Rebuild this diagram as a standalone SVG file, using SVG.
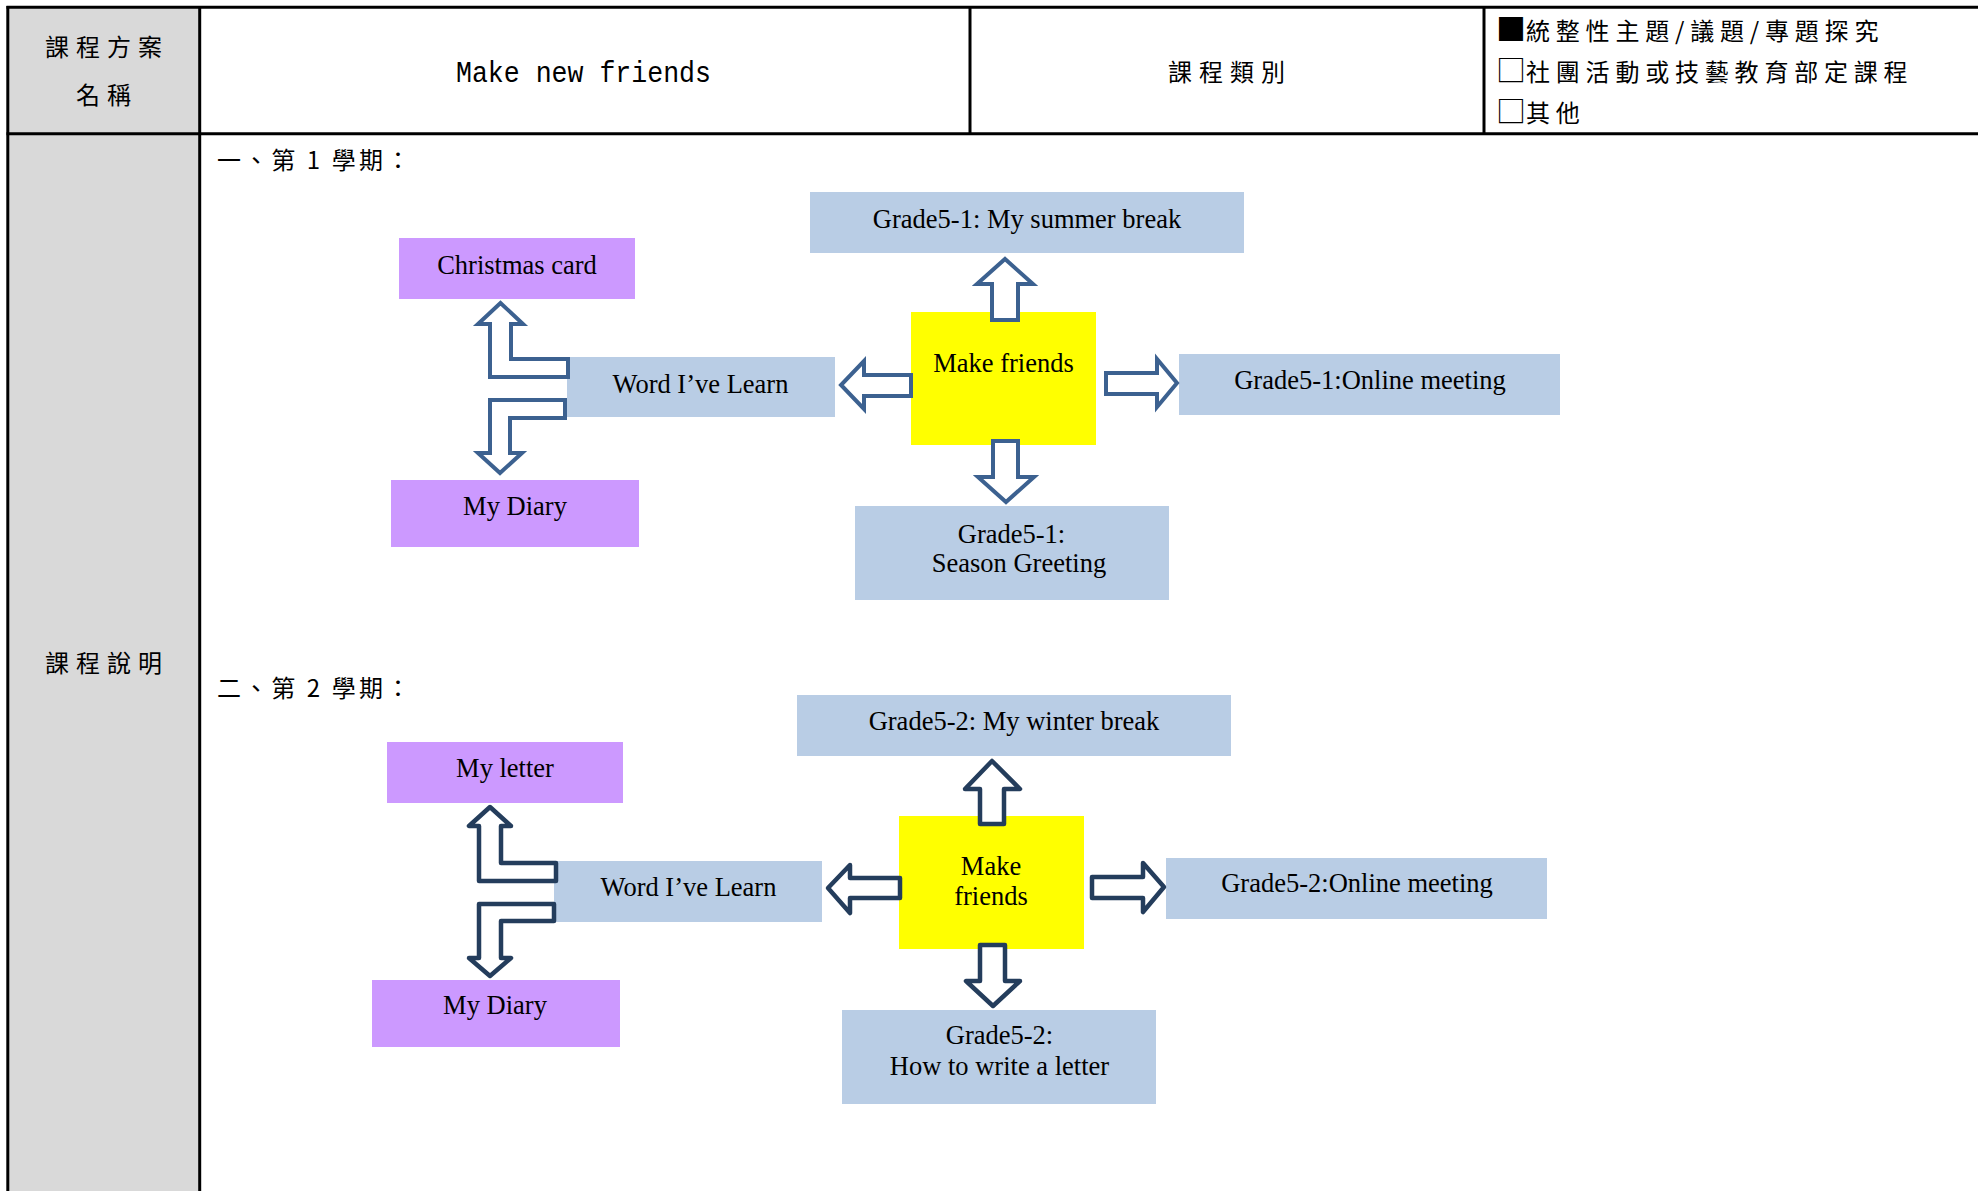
<svg xmlns="http://www.w3.org/2000/svg" width="1978" height="1191" viewBox="0 0 1978 1191">
<defs>
<style>
.cjk{font-family:"Noto Sans CJK TC","Noto Sans CJK SC",sans-serif;font-size:24px;fill:#000;}
.lbl{font-family:"Liberation Serif","Times New Roman",serif;font-size:26.5px;fill:#000;text-anchor:middle;}
.mono{font-family:"Liberation Mono","Courier New",monospace;font-size:29px;fill:#000;}
.grid{stroke:#000;stroke-width:3;fill:none;}
.blue{fill:#b9cde5;}
.purple{fill:#cc99ff;}
.yellow{fill:#ffff00;}
.a1{fill:#fff;stroke:#3c6190;stroke-width:4;stroke-linejoin:miter;}
.a2{fill:#fff;stroke:#243d5c;stroke-width:4.5;stroke-linejoin:round;}
.chk{font-size:30px;letter-spacing:0;}
</style>
</defs>
<rect width="1978" height="1191" fill="#fff"/>
<g id="table">
<rect x="8" y="7" width="191.5" height="1184" fill="#d9d9d9"/>
<line class="grid" x1="6.5" y1="7.3" x2="1978" y2="7.3"/>
<line class="grid" x1="6.5" y1="133.8" x2="1978" y2="133.8"/>
<line class="grid" x1="7.8" y1="6" x2="7.8" y2="1191"/>
<line class="grid" x1="199.7" y1="6" x2="199.7" y2="1191"/>
<line class="grid" x1="970" y1="6" x2="970" y2="134"/>
<line class="grid" x1="1484" y1="6" x2="1484" y2="134"/>
<text class="cjk" x="107" y="55.5" text-anchor="middle" letter-spacing="7">課程方案</text>
<text class="cjk" x="107" y="104" text-anchor="middle" letter-spacing="7">名稱</text>
<text class="mono" x="456" y="82" textLength="255" lengthAdjust="spacingAndGlyphs">Make new friends</text>
<text class="cjk" x="1230" y="80.5" text-anchor="middle" letter-spacing="7">課程類別</text>
<text class="cjk" x="1496" y="40" letter-spacing="5.8"><tspan class="chk">■</tspan>統整性主題/議題/專題探究</text>
<text class="cjk" x="1496" y="81" letter-spacing="5.8"><tspan class="chk">□</tspan>社團活動或技藝教育部定課程</text>
<text class="cjk" x="1496" y="122" letter-spacing="5.8"><tspan class="chk">□</tspan>其他</text>
<text class="cjk" x="107" y="672" text-anchor="middle" letter-spacing="7">課程說明</text>
<text class="cjk" x="217" y="169" font-size="25" textLength="193" lengthAdjust="spacing">一、第 1 學期：</text>
<text class="cjk" x="217" y="697" font-size="25" textLength="193" lengthAdjust="spacing">二、第 2 學期：</text>
</g>

<g id="s1-summer"><rect class="blue" x="810" y="192" width="434" height="61"/><text class="lbl" x="1027" y="228">Grade5-1: My summer break</text></g>
<g id="s1-make"><rect class="yellow" x="911" y="312" width="185" height="133"/><text class="lbl" x="1003.5" y="372">Make friends</text></g>
<g id="s1-season"><rect class="blue" x="855" y="506" width="314" height="94"/><text class="lbl" x="1011.5" y="543">Grade5-1:</text><text class="lbl" x="1019" y="572">Season Greeting</text></g>
<g id="s1-online"><rect class="blue" x="1179" y="354" width="381" height="61"/><text class="lbl" x="1370" y="389">Grade5-1:Online meeting</text></g>
<g id="s1-word"><rect class="blue" x="567" y="357" width="268" height="60"/><text class="lbl" x="700.5" y="393">Word I’ve Learn</text></g>
<g id="s1-christmas"><rect class="purple" x="399" y="238" width="236" height="61"/><text class="lbl" x="517" y="274">Christmas card</text></g>
<g id="s1-diary"><rect class="purple" x="391" y="480" width="248" height="67"/><text class="lbl" x="515" y="515">My Diary</text></g>

<g id="s2-winter"><rect class="blue" x="797" y="695" width="434" height="61"/><text class="lbl" x="1014" y="729.5">Grade5-2: My winter break</text></g>
<g id="s2-make"><rect class="yellow" x="899" y="816" width="185" height="133"/><text class="lbl" x="991" y="874.5">Make</text><text class="lbl" x="991" y="905">friends</text></g>
<g id="s2-letter"><rect class="blue" x="842" y="1010" width="314" height="94"/><text class="lbl" x="999.5" y="1044">Grade5-2:</text><text class="lbl" x="999.5" y="1075">How to write a letter</text></g>
<g id="s2-online"><rect class="blue" x="1166" y="858" width="381" height="61"/><text class="lbl" x="1357" y="892">Grade5-2:Online meeting</text></g>
<g id="s2-word"><rect class="blue" x="554" y="861" width="268" height="61"/><text class="lbl" x="688.5" y="896">Word I’ve Learn</text></g>
<g id="s2-myletter"><rect class="purple" x="387" y="742" width="236" height="61"/><text class="lbl" x="505" y="777">My letter</text></g>
<g id="s2-diary"><rect class="purple" x="372" y="980" width="248" height="67"/><text class="lbl" x="495" y="1014">My Diary</text></g>

<g id="connectors">
<path class="a1" d="M992,320 L992,284 L977,284 L1005,259 L1033,284 L1018,284 L1018,320 Z"/>
<path class="a1" d="M993,441 L1018,441 L1018,477 L1034,477 L1006,502 L978,477 L993,477 Z"/>
<path class="a1" d="M1106,373 L1157,373 L1157,359 L1177,383 L1157,407 L1157,394 L1106,394 Z"/>
<path class="a1" d="M911,375 L864,375 L864,361 L841,385 L864,409 L864,396 L911,396 Z"/>
<path class="a1" d="M568,359 L511,359 L511,324 L523,324 L500.5,303 L478,324 L490,324 L490,377 L568,377 Z"/>
<path class="a1" d="M565,400 L490,400 L490,453 L478,453 L500,473 L522,453 L510,453 L510,418 L565,418 Z"/>
<path class="a2" d="M980,824 L980,789 L965,789 L992,761 L1020,789 L1004,789 L1004,824 Z"/>
<path class="a2" d="M980,945 L1005,945 L1005,981 L1020,981 L993,1006 L966,981 L980,981 Z"/>
<path class="a2" d="M1092,877 L1143,877 L1143,863 L1164,887 L1143,912 L1143,898 L1092,898 Z"/>
<path class="a2" d="M900,878 L850,878 L850,865 L828,888 L850,913 L850,898 L900,898 Z"/>
<path class="a2" d="M556,863 L501,863 L501,826 L511,826 L490,807 L469,826 L479,826 L479,881 L556,881 Z"/>
<path class="a2" d="M554,904 L479,904 L479,958 L469,958 L490,976 L511,958 L501,958 L501,921 L554,921 Z"/>
</g>
</svg>
